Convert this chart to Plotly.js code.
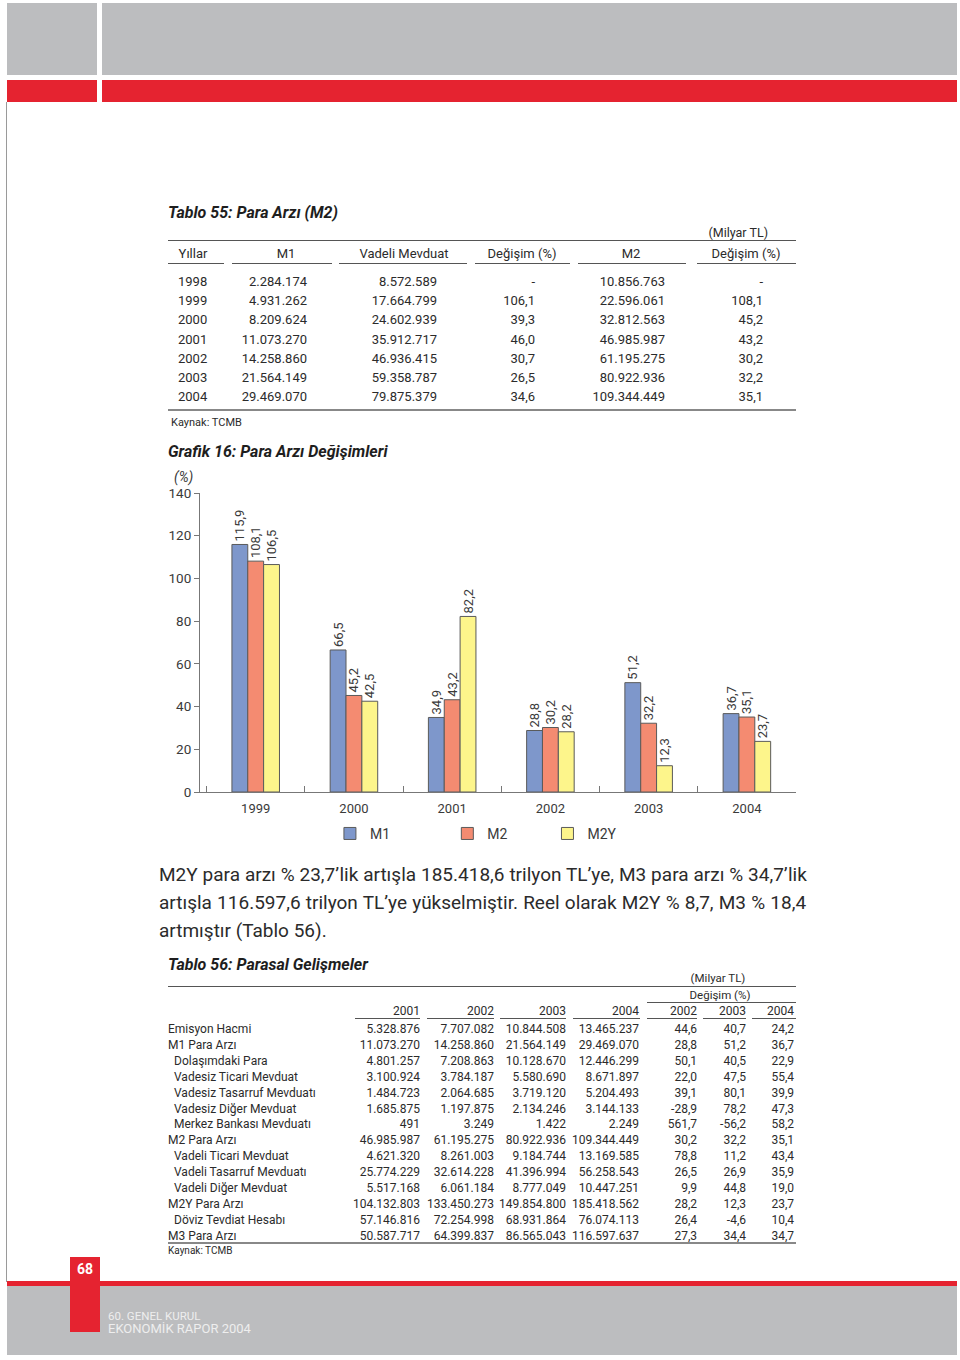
<!DOCTYPE html>
<html><head><meta charset="utf-8">
<script src="https://cdn.plot.ly/plotly-3.0.1.min.js"></script>
<style>
body{margin:0;width:960px;height:1360px;position:relative;background:#fff;font-family:Roboto,"Open Sans",sans-serif;color:#2b2b2b;overflow:hidden}
.a{position:absolute;white-space:nowrap}
.r{position:absolute}
</style></head><body>
<div id="chart" style="position:absolute;left:160px;top:440px;width:640px;height:420px"></div>
<script>
// ---- Chart data (Grafik 16) ----
const years = ['1999','2000','2001','2002','2003','2004'];
const m1Change = [115.9, 66.5, 34.9, 28.8, 51.2, 36.7];
const m2Change = [108.1, 45.2, 43.2, 30.2, 32.2, 35.1];
const m2yChange = [106.5, 42.5, 82.2, 28.2, 12.3, 23.7];
const seriesNames = ['M1','M2','M2Y'];
const yTicks = [0,20,40,60,80,100,120,140];

// ---- Tablo 55 ----
const t55Header = ['Yıllar','M1','Vadeli Mevduat','Değişim (%)','M2','Değişim (%)'];
const t55Years = ['1998','1999','2000','2001','2002','2003','2004'];
const t55M1 = ['2.284.174','4.931.262','8.209.624','11.073.270','14.258.860','21.564.149','29.469.070'];
const t55Vadeli = ['8.572.589','17.664.799','24.602.939','35.912.717','46.936.415','59.358.787','79.875.379'];
const t55VadeliChg = ['-','106,1','39,3','46,0','30,7','26,5','34,6'];
const t55M2 = ['10.856.763','22.596.061','32.812.563','46.985.987','61.195.275','80.922.936','109.344.449'];
const t55M2Chg = ['-','108,1','45,2','43,2','30,2','32,2','35,1'];

// ---- Tablo 56 ----
const t56Labels = ['Emisyon Hacmi','M1 Para Arzı','Dolaşımdaki Para','Vadesiz Ticari Mevduat','Vadesiz Tasarruf Mevduatı','Vadesiz Diğer Mevduat','Merkez Bankası Mevduatı','M2 Para Arzı','Vadeli Ticari Mevduat','Vadeli Tasarruf Mevduatı','Vadeli Diğer Mevduat','M2Y Para Arzı','Döviz Tevdiat Hesabı','M3 Para Arzı'];
const t56Indent = [0,0,1,1,1,1,1,0,1,1,1,0,1,0];
const t56Cols = ['2001','2002','2003','2004','2002','2003','2004'];
const t56v2001 = ['5.328.876','11.073.270','4.801.257','3.100.924','1.484.723','1.685.875','491','46.985.987','4.621.320','25.774.229','5.517.168','104.132.803','57.146.816','50.587.717'];
const t56v2002 = ['7.707.082','14.258.860','7.208.863','3.784.187','2.064.685','1.197.875','3.249','61.195.275','8.261.003','32.614.228','6.061.184','133.450.273','72.254.998','64.399.837'];
const t56v2003 = ['10.844.508','21.564.149','10.128.670','5.580.690','3.719.120','2.134.246','1.422','80.922.936','9.184.744','41.396.994','8.777.049','149.854.800','68.931.864','86.565.043'];
const t56v2004 = ['13.465.237','29.469.070','12.446.299','8.671.897','5.204.493','3.144.133','2.249','109.344.449','13.169.585','56.258.543','10.447.251','185.418.562','76.074.113','116.597.637'];
const t56c2002 = ['44,6','28,8','50,1','22,0','39,1','-28,9','561,7','30,2','78,8','26,5','9,9','28,2','26,4','27,3'];
const t56c2003 = ['40,7','51,2','40,5','47,5','80,1','78,2','-56,2','32,2','11,2','26,9','44,8','12,3','-4,6','34,4'];
const t56c2004 = ['24,2','36,7','22,9','55,4','39,9','47,3','58,2','35,1','43,4','35,9','19,0','23,7','10,4','34,7'];

const paragraph = [
 'M2Y para arzı % 23,7’lik artışla 185.418,6 trilyon TL’ye,  M3 para arzı % 34,7’lik',
 'artışla 116.597,6 trilyon TL’ye yükselmiştir. Reel olarak  M2Y  % 8,7, M3 % 18,4',
 'artmıştır (Tablo 56).'
];

// ---- helpers ----
const B = document.body;
function T(x, y, s, o) {
  o = o || {};
  const d = document.createElement('div');
  d.className = 'a';
  d.textContent = s;
  const size = o.size || 13;
  d.style.fontSize = size + 'px';
  d.style.lineHeight = '24px';
  d.style.top = (y - 12) + 'px';
  if (o.align === 'right') { d.style.right = (960 - x) + 'px'; }
  else if (o.align === 'center') { d.style.left = (x - 200) + 'px'; d.style.width = '400px'; d.style.textAlign = 'center'; }
  else d.style.left = x + 'px';
  if (o.color) d.style.color = o.color;
  if (o.bold) d.style.fontWeight = 'bold';
  if (o.italic) d.style.fontStyle = 'italic';
  B.appendChild(d);
  return d;
}
function R(x1, y1, x2, y2, c) {
  const d = document.createElement('div');
  d.className = 'r';
  d.style.left = x1 + 'px'; d.style.top = y1 + 'px';
  d.style.width = (x2 - x1) + 'px'; d.style.height = (y2 - y1) + 'px';
  d.style.background = c;
  B.appendChild(d);
}

// ---- page decoration ----
const GRAY = '#bcbdbf', RED = '#e52330';
R(7,3,97,75,GRAY); R(102,3,957,75,GRAY);
R(7,80,97,102,RED); R(102,80,957,102,RED);
R(6,102,7,1282,'#9a9a9a');
R(7,1281,957,1286,RED);
R(7,1286,957,1355,GRAY);
R(70,1257,100,1332,RED);
T(85,1269,'68',{align:'center',size:14,bold:true,color:'#fff'});
T(108,1316,'60. GENEL KURUL',{size:11.5,color:'#eeeeee'});
T(108,1329,'EKONOMİK RAPOR 2004',{size:13,color:'#eeeeee'});

// ---- Tablo 55 ----
T(168,213,'Tablo 55: Para Arzı (M2)',{size:16,bold:true,italic:true,color:'#1e1e1e'});
T(768,233,'(Milyar TL)',{align:'right',size:12.5});
R(168,240,796,241,'#555');
const h55c = [193,286,404,522,631,746];
const h55seg = [[168,224],[232,332],[339,467],[475,570],[578,686],[697,796]];
t55Header.forEach((h,i)=>{ T(h55c[i],254,h,{align:'center',size:13}); R(h55seg[i][0],263,h55seg[i][1],264,'#555'); });
const c55 = [t55M1,t55Vadeli,t55VadeliChg,t55M2,t55M2Chg];
const x55 = [307,437,535,665,763];
t55Years.forEach((yr,r)=>{
  const y = 282 + r*19.2;
  T(178,y,yr,{size:13});
  c55.forEach((col,ci)=>T(x55[ci],y,col[r],{align:'right',size:13}));
});
R(168,409,796,411,'#888');
T(171,423,'Kaynak: TCMB',{size:11});

// ---- paragraph ----
let pScale = 1;
paragraph.forEach((line,i)=>{
  const d = document.createElement('div');
  d.className = 'a';
  d.style.left = '159px'; d.style.top = (875 + i*28 - 14) + 'px';
  d.style.fontSize = '19px'; d.style.lineHeight = '28px'; d.style.color = '#2b2b2b';
  const sp = document.createElement('span'); sp.textContent = line; d.appendChild(sp);
  B.appendChild(d);
  const w = sp.getBoundingClientRect().width;
  if (i === 0 && w > 648) pScale = 648 / w;
  d.style.transformOrigin = 'left center';
  d.style.transform = 'scaleX(' + pScale + ')';
  if (i < paragraph.length - 1) {
    const target = 648 / pScale;
    if (w < target) { const n = line.split(' ').length - 1; d.style.wordSpacing = ((target - w)/n) + 'px'; }
  }
});

// ---- Tablo 56 ----
T(168,965,'Tablo 56: Parasal Gelişmeler',{size:16,bold:true,italic:true,color:'#1e1e1e'});
T(718,978,'(Milyar TL)',{align:'center',size:11.5});
R(168,986,796,987,'#555');
T(720,995,'Değişim (%)',{align:'center',size:11.5});
R(647,1002,796,1003,'#555');
const x56 = [420,494,566,639,697,746,794];
const seg56 = [[355,420],[427,494],[500,566],[573,640],[647,697],[703,746],[752,796]];
t56Cols.forEach((c,i)=>{ T(x56[i],1011,c,{align:'right',size:12}); R(seg56[i][0],1018,seg56[i][1],1019,'#555'); });
const c56 = [t56v2001,t56v2002,t56v2003,t56v2004,t56c2002,t56c2003,t56c2004];
t56Labels.forEach((lab,r)=>{
  const y = 1029 + r*15.9;
  T(t56Indent[r] ? 174 : 168, y, lab, {size:12});
  c56.forEach((col,ci)=>T(x56[ci],y,col[r],{align:'right',size:12}));
});
R(168,1242,796,1244,'#888');
T(168,1251,'Kaynak: TCMB',{size:10});

// ---- Chart ----
const colors = ['#7e97cb','#f48b71','#fdf58b'];
const vals = [m1Change, m2Change, m2yChange];
const legendNames = ['legend','legend2','legend3'];
const fmt = v => v.toFixed(1).replace('.', ',');
const traces = vals.map((v,i)=>({
  type:'bar', x: years, y: v, name: seriesNames[i],
  marker:{color:colors[i], line:{color:'#5a5a5a', width:1}},
  text: v.map(fmt), textposition:'outside', textangle:-90,
  textfont:{size:13, color:'#3a3a3a'}, constraintext:'none', cliponaxis:false,
  legend: legendNames[i], hoverinfo:'skip'
}));
const legBase = {orientation:'h', yanchor:'middle', xanchor:'left', y:-0.14, bgcolor:'rgba(0,0,0,0)', font:{size:14, color:'#3a3a3a'}, itemwidth:30};
const layout = {
  width:640, height:420,
  margin:{l:40, r:4, t:53, b:68},
  paper_bgcolor:'#fff', plot_bgcolor:'#fff',
  font:{family:'Roboto, "Open Sans", sans-serif', color:'#3a3a3a'},
  title:{text:'<b><i>Grafik 16: Para Arzı Değişimleri</i></b>', x:8/640, xanchor:'left', xref:'container', y:1-11/420, yanchor:'middle', yref:'container', font:{size:16, color:'#1e1e1e'}},
  barmode:'group', bargap:0.516, bargroupgap:0,
  showlegend:true,
  legend: Object.assign({}, legBase, {x:0.218}),
  legend2: Object.assign({}, legBase, {x:0.415}),
  legend3: Object.assign({}, legBase, {x:0.583}),
  xaxis:{type:'category', range:[-0.567,5.5], showline:true, linecolor:'#777', linewidth:1,
    ticks:'inside', tickson:'boundaries', ticklen:6, tickcolor:'#777', tickwidth:1,
    tickfont:{size:13, color:'#3a3a3a'}, ticklabelstandoff:4, showgrid:false, zeroline:false, fixedrange:true},
  yaxis:{range:[0,140], tickvals:yTicks, showline:true, linecolor:'#777', linewidth:1,
    ticks:'outside', ticklen:5, tickcolor:'#777', tickfont:{size:13.5, color:'#3a3a3a'},
    showgrid:false, zeroline:false, fixedrange:true},
  annotations:[{text:'<i>(%)</i>', xref:'paper', yref:'paper', x:(12-40)/596, y:1+(53-37)/299, xanchor:'left', yanchor:'middle', showarrow:false, font:{size:14, color:'#3a3a3a'}}]
};
Plotly.newPlot('chart', traces, layout, {displayModeBar:false, staticPlot:true});
</script>
</body></html>
